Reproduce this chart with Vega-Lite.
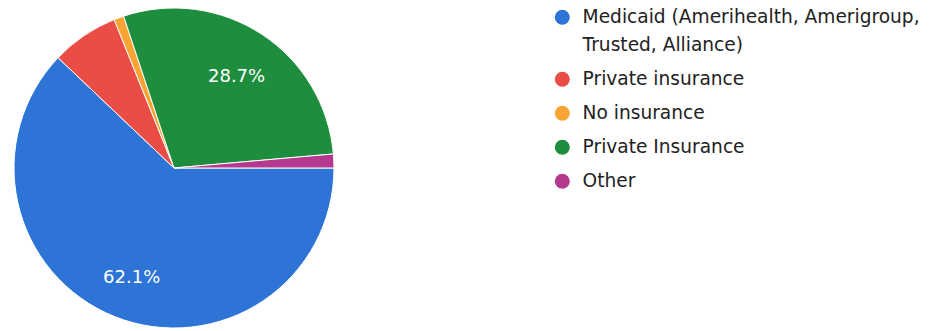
{
  "$schema": "https://vega.github.io/schema/vega-lite/v6.json",
  "width": 348,
  "height": 336,
  "padding": 0,
  "background": "white",
  "config": {
    "view": {"stroke": null},
    "font": "DejaVu Sans",
    "style": {"guide-label": {"lineHeight": 28}}
  },
  "data": {"values": [
    {"category": "Medicaid (Amerihealth, Amerigroup, Trusted, Alliance)", "value": 0.621, "order": 1},
    {"category": "Private insurance", "value": 0.068, "order": 2},
    {"category": "No insurance", "value": 0.010, "order": 3},
    {"category": "Private Insurance", "value": 0.287, "order": 4},
    {"category": "Other", "value": 0.014, "order": 5}
  ]},
  "encoding": {
    "theta": {"field": "value", "type": "quantitative", "stack": true, "scale": {"range": [1.5708, 7.854]}},
    "order": {"field": "order", "type": "quantitative"},
    "color": {
      "field": "category", "type": "nominal",
      "scale": {
        "domain": ["Medicaid (Amerihealth, Amerigroup, Trusted, Alliance)", "Private insurance", "No insurance", "Private Insurance", "Other"],
        "range": ["#2d74d6", "#ea4d45", "#f9a433", "#1e8e3e", "#b4398f"]
      },
      "legend": {
        "title": null,
        "orient": "none",
        "legendX": 553,
        "legendY": 8,
        "symbolType": "circle",
        "symbolSize": 225,
        "symbolStrokeWidth": 0,
        "labelFont": "DejaVu Sans",
        "labelFontSize": 18.6,
        "labelColor": "#222222",
        "labelOffset": 11,
        "labelLimit": 400,
        "rowPadding": 15,
        "padding": 0,
        "labelExpr": "datum.label == 'Medicaid (Amerihealth, Amerigroup, Trusted, Alliance)' ? ['Medicaid (Amerihealth, Amerigroup,', 'Trusted, Alliance)'] : datum.label",
        "encode": {"labels": {"enter": {"lineHeight": {"value": 28}}, "update": {"lineHeight": {"value": 28}}}}
      }
    }
  },
  "layer": [
    {"mark": {"type": "arc", "outerRadius": 160, "stroke": "white", "strokeWidth": 1}},
    {
      "mark": {"type": "text", "radius": 114, "dy": 4, "fontSize": 18, "font": "DejaVu Sans", "fill": "white"},
      "encoding": {
        "text": {"condition": {"test": "datum.value > 0.1", "field": "value", "type": "quantitative", "format": ".1%"}, "value": ""},
        "color": {"value": "white"}
      }
    }
  ]
}
